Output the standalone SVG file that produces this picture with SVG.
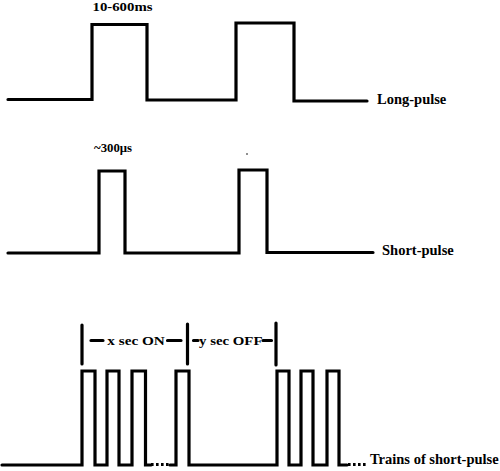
<svg xmlns="http://www.w3.org/2000/svg" width="500" height="471" viewBox="0 0 500 471">
<style>
.w{fill:none;stroke:#000;stroke-width:3.2;stroke-linejoin:miter;stroke-linecap:round}
.d{fill:none;stroke:#000;stroke-width:3.2;stroke-dasharray:2.6 2.4;stroke-linecap:butt}
.t{font-family:"Liberation Serif","Times New Roman",serif;font-weight:bold;fill:#000}
</style>
<rect width="500" height="471" fill="#fff"/>
<g id="long-pulse">
<path class="w" d="M8,99.5 H92 V24.5 H147 V100 H236 V23 H294 V101 H367"/>
<text class="t" x="92.5" y="11" font-size="13" textLength="60" lengthAdjust="spacingAndGlyphs">10-600ms</text>
<text class="t" x="377" y="104" font-size="14.5">Long-pulse</text>
</g>
<g id="short-pulse">
<path class="w" d="M8,253 H99 V171 H125 V253 H239 V170 H267 V252.5 H373"/>
<text class="t" x="94" y="152" font-size="13" textLength="38" lengthAdjust="spacingAndGlyphs">~300μs</text>
<circle cx="247" cy="154" r="0.8" fill="#000"/>
<text class="t" x="382" y="255" font-size="14.5">Short-pulse</text>
</g>
<g id="trains">
<path class="w" d="M2,465 H82 V371 H95 V465 H107 V371 H119 V465 H132 V371 H145.5 V465 H151"/>
<path class="d" d="M151,464.5 H170"/>
<path class="w" d="M170,465 H176 V371 H189 V465 H277 V371 H289 V465 H301 V371 H313 V465 H327 V371 H339 V465 H347"/>
<path class="d" d="M348,464.5 H368"/>
<text class="t" x="370" y="464" font-size="14.5">Trains of short-pulse</text>
</g>
<g id="markers">
<path class="w" d="M82,325 V364 M187.5,324 V364 M276,323 V365"/>
<path class="w" d="M91,340.5 H103 M167.5,340.5 H181 M193.5,340.5 H198 M263,340.5 H271.5"/>
<text class="t" x="107.3" y="344.5" font-size="13.5" textLength="57.5" lengthAdjust="spacingAndGlyphs">x sec ON</text>
<text class="t" x="199" y="344.5" font-size="13.5" textLength="63.5" lengthAdjust="spacingAndGlyphs">y sec OFF</text>
</g>
</svg>
